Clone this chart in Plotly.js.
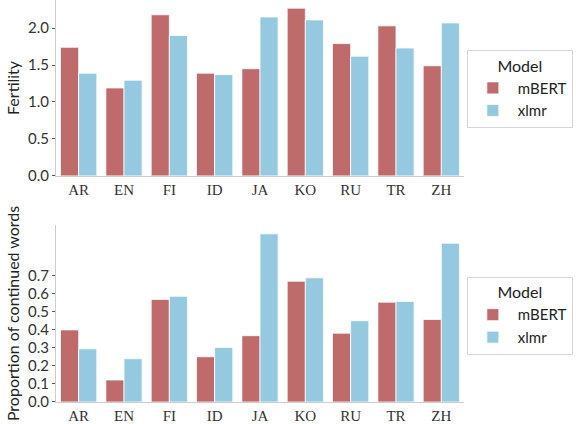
<!DOCTYPE html>
<html>
<head>
<meta charset="utf-8">
<script src="https://cdn.plot.ly/plotly-3.0.1.min.js"></script>
<style>
  html, body { margin: 0; padding: 0; background: #fff; }
  #chart { width: 579px; height: 424px; }
</style>
</head>
<body>
<div id="chart"></div>
<script>
// Languages along the x axis
const languages = ['AR', 'EN', 'FI', 'ID', 'JA', 'KO', 'RU', 'TR', 'ZH'];

// Fertility (subword tokens per word)
const fertilityMbert = [1.74, 1.19, 2.18, 1.39, 1.45, 2.27, 1.79, 2.03, 1.49];
const fertilityXlmr  = [1.39, 1.295, 1.90, 1.37, 2.15, 2.11, 1.62, 1.73, 2.07];

// Proportion of words split into more than one token
const continuedMbert = [0.40, 0.122, 0.569, 0.251, 0.368, 0.670, 0.382, 0.554, 0.458];
const continuedXlmr  = [0.295, 0.240, 0.587, 0.303, 0.933, 0.689, 0.451, 0.558, 0.881];

const fertilityTicks = [0.0, 0.5, 1.0, 1.5, 2.0];
const continuedTicks = [0.0, 0.1, 0.2, 0.3, 0.4, 0.5, 0.6, 0.7];

const RED = '#bf6a6b';
const BLUE = '#94c9e0';
const SANS = 'Lato, "DejaVu Sans", sans-serif';
const SERIF = '"Liberation Serif", "DejaVu Serif", serif';

function barTrace(name, y, color, xa, ya, legend) {
  return {
    type: 'bar', name: name, x: languages, y: y,
    xaxis: xa, yaxis: ya, legend: legend,
    marker: { color: color, line: { color: '#ffffff', width: 0.8 } },
    hoverinfo: 'x+y+name'
  };
}

const data = [
  barTrace('mBERT', fertilityMbert, RED, 'x', 'y', 'legend'),
  barTrace('xlmr', fertilityXlmr, BLUE, 'x', 'y', 'legend'),
  barTrace('mBERT', continuedMbert, RED, 'x2', 'y2', 'legend2'),
  barTrace('xlmr', continuedXlmr, BLUE, 'x2', 'y2', 'legend2')
];

function xAxis(anchor) {
  return {
    anchor: anchor, domain: [0, 1], range: [-0.5, 8.5],
    showline: true, linecolor: '#cccccc', linewidth: 1,
    ticks: '', showgrid: false, zeroline: false,
    tickfont: { family: SERIF, size: 15, color: '#333333' },
    ticklen: 0
  };
}

function yAxis(anchor, domain, range, ticks, title) {
  return {
    anchor: anchor, domain: domain, range: range,
    tickvals: ticks, ticktext: ticks.map(v => v.toFixed(1)),
    showline: true, linecolor: '#cccccc', linewidth: 1,
    ticks: 'outside', ticklen: 3, tickcolor: '#555555', tickwidth: 1,
    showgrid: false, zeroline: false,
    tickfont: { family: SANS, size: 15, color: '#333333' },
    title: { text: title, font: { family: SANS, size: 16, color: '#222222' }, standoff: 4 }
  };
}

function legendBox(y) {
  return {
    x: 1.007, y: y, xanchor: 'left', yanchor: 'top',
    bgcolor: '#ffffff', bordercolor: '#d5d5d5', borderwidth: 1,
    title: { text: 'Model', font: { family: SANS, size: 16, color: '#222222' }, side: 'top center' },
    font: { family: SANS, size: 15, color: '#222222' },
    itemwidth: 40, tracegroupgap: 0
  };
}

const layout = {
  width: 579, height: 424,
  margin: { l: 56, r: 115, t: 0, b: 22 },
  paper_bgcolor: '#ffffff', plot_bgcolor: '#ffffff',
  barmode: 'group', bargap: 0.2, bargroupgap: 0,
  showlegend: true,
  xaxis: xAxis('y'),
  yaxis: yAxis('x', [0.5625, 1], [0, 2.38], fertilityTicks, 'Fertility'),
  xaxis2: xAxis('y2'),
  yaxis2: yAxis('x2', [0, 0.4407], [0, 0.983], continuedTicks, 'Proportion of continued words'),
  legend: legendBox(0.876),
  legend2: legendBox(0.312)
};

Plotly.newPlot('chart', data, layout, { staticPlot: true, displayModeBar: false });
</script>
</body>
</html>
